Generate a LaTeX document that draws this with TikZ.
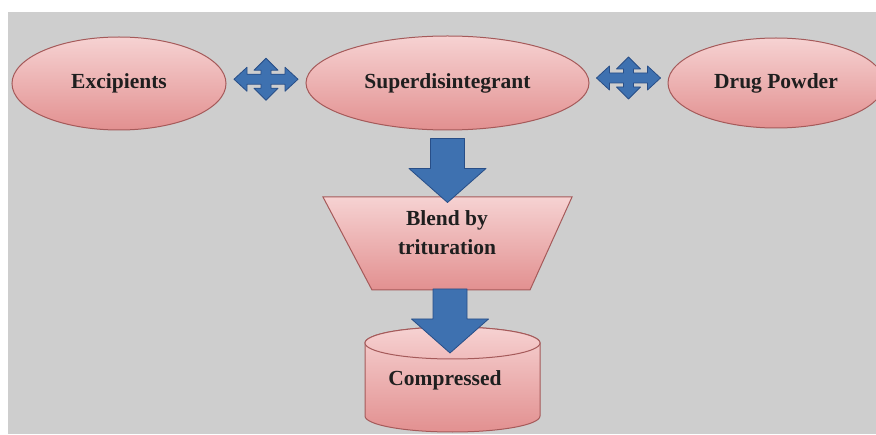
\documentclass[tikz,border=0pt]{standalone}
\usepackage{fontspec}
\setmainfont{Liberation Serif}
\usetikzlibrary{shapes.geometric,calc}
\definecolor{bgc}{RGB}{206,206,206}
\definecolor{pinktop}{RGB}{246,210,210}
\definecolor{pinkmid}{RGB}{240,188,188}
\definecolor{pinkbot}{RGB}{226,144,144}
\definecolor{pinkedge}{RGB}{165,90,90}
\definecolor{bluefill}{RGB}{62,113,176}
\definecolor{blueedge}{RGB}{40,78,135}
\tikzset{
  pics/quadarrow/.style={code={
    \path[quad] (32,0) -- (19,12) -- (19,5) -- (5,5) -- (5,9) -- (12,9) -- (0,21)
      -- (-12,9) -- (-5,9) -- (-5,5) -- (-19,5) -- (-19,12) -- (-32,0)
      -- (-19,-12) -- (-19,-5) -- (-5,-5) -- (-5,-9) -- (-12,-9) -- (0,-21)
      -- (12,-9) -- (5,-9) -- (5,-5) -- (19,-5) -- (19,-12) -- cycle;
  }},
  pics/downarrow/.style={code={
    \path[quad] (-17,0) -- (17,0) -- (17,-30) -- (38.5,-30) -- (0,-64)
      -- (-38.5,-30) -- (-17,-30) -- cycle;
  }}
}
\begin{document}
\begin{tikzpicture}[x=1pt,y=1pt,
  lbl/.style={font=\fontsize{21.5}{29}\selectfont\bfseries, text=black!88, align=center},
  blob/.style={ellipse, draw=pinkedge, line width=1pt, top color=pinktop, bottom color=pinkbot, inner sep=0pt},
  pinkshape/.style={draw=pinkedge, line width=1pt, top color=pinktop, bottom color=pinkbot},
  quad/.style={fill=bluefill, draw=blueedge, line width=0.8pt, line join=round},
]
\useasboundingbox (0,0) rectangle (876,434);
\fill[white] (0,0) rectangle (876,434);
\fill[bgc] (8,0) rectangle (876,422);
\begin{scope}
\clip (8,0) rectangle (876,422);
% top row
\node[blob, lbl, minimum width=214, minimum height=93] (exc) at (119,350.5) {Excipients};
\node[blob, lbl, minimum width=283, minimum height=94] (sup) at (447.5,351) {Superdisintegrant};
\node[blob, lbl, minimum width=216, minimum height=90] (drug) at (776,351) {Drug Powder};
\pic at ($(exc.east)!0.5!(sup.west)+(0,4)$) {quadarrow};
\pic at ($(sup.east)!0.5!(drug.west)+(0,5)$) {quadarrow};
% trapezoid
\path[pinkshape] (323,237) -- (572,237) -- (530,144) -- (372,144) -- cycle;
\coordinate (traptop) at (448,237);
\coordinate (trapbot) at (450,144);
\node[lbl] (trap) at (447,201.5) {Blend by\\trituration};
% cylinder
\path[pinkshape] (365,91) -- (365,18) arc[start angle=180, end angle=360, x radius=87.5, y radius=16]
  -- (540,91) arc[start angle=0, end angle=180, x radius=87.5, y radius=16] -- cycle;
\path[draw=pinkedge, line width=1pt, top color=pinktop, bottom color=pinkmid] (452.5,91) ellipse [x radius=87.5, y radius=16];
\node[lbl] (comp) at (445,54) {Compressed};
% down arrows
\pic at ($(sup.south)+(0,-8)$) {downarrow};
\pic at ($(trapbot)+(0,1)$) {downarrow};
\end{scope}
\end{tikzpicture}
\end{document}
